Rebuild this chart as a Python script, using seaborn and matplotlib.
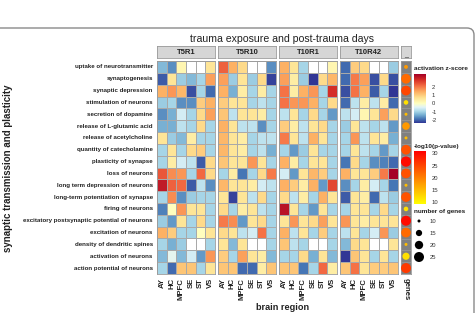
import numpy as np
import pandas as pd
import matplotlib
matplotlib.use("Agg")
import matplotlib.pyplot as plt
import matplotlib.colors as mcolors
from matplotlib.patches import FancyBboxPatch
from matplotlib.transforms import IdentityTransform
import seaborn as sns

sns.set_style("white")
plt.rcParams["font.family"] = ["Liberation Sans", "DejaVu Sans"]

nan = np.nan

# ── data ──────────────────────────────────────────────────────────────────────
regions = ["AY", "HC", "MPFC", "SE", "ST", "VS"]
functions = [
    "uptake of neurotransmitter", "synaptogenesis", "synaptic depression",
    "stimulation of neurons", "secretion of dopamine", "release of L-glutamic acid",
    "release of acetylcholine", "quantity of catecholamine", "plasticity of synapse",
    "loss of neurons", "long term depression of neurons",
    "long-term potentiation of synapse", "firing of neurons",
    "excitatory postsynaptic potential of neurons", "excitation of neurons",
    "density of dendritic spines", "activation of neurons",
    "action potential of neurons",
]
panels = ["T5R1", "T5R10", "T10R1", "T10R42"]

z_t5r1 = [
    [-1.3, -1.7, 0.2, nan, nan, 0.6],
    [-2.1, 0.6, -1.1, -1.3, -1.0, 1.6],
    [1.4, 1.7, 1.3, -2.2, -1.0, -2.0],
    [-1.1, -1.0, -1.7, -1.7, 1.0, 1.4],
    [-1.7, -1.4, -0.6, -1.0, 0.8, 1.6],
    [-1.4, -1.4, -0.8, -1.0, 0.8, -1.0],
    [0.6, -1.1, -1.3, 0.4, -1.0, -1.0],
    [-1.0, 0.6, -1.0, 0.8, 1.0, -1.0],
    [-1.0, 0.4, -0.6, -0.8, -2.1, 0.8],
    [2.4, 1.8, 1.7, -1.0, 2.2, 0.8],
    [3.2, 2.3, 2.2, -2.1, -0.8, -1.7],
    [-1.0, 1.8, -1.7, -1.1, -1.0, -1.0],
    [-1.8, 0.0, 1.7, 0.6, 0.6, -1.0],
    [-1.1, -1.6, 0.6, -1.0, 0.8, -1.0],
    [1.4, 1.0, -1.0, -1.0, 0.0, 0.6],
    [-1.0, -1.4, -1.1, nan, nan, -1.0],
    [-1.3, -0.4, -1.3, -0.6, -1.6, 1.7],
    [-1.0, -2.0, 1.1, 1.1, -1.0, 0.6],
]
z_t5r10 = [
    [2.3, 1.4, 0.8, nan, nan, -1.7],
    [1.6, -1.1, 0.6, -1.1, 0.8, -2.3],
    [1.4, -1.4, 0.4, -1.0, 0.4, -1.0],
    [1.0, 0.6, 0.6, -1.0, -0.8, -1.0],
    [1.1, -0.8, 0.6, 0.6, 0.4, -1.0],
    [1.4, 0.6, -0.8, -0.8, -1.7, -1.0],
    [1.3, 0.6, 0.4, -1.0, -0.8, -0.8],
    [1.3, 0.6, 0.4, -1.0, -0.8, -1.4],
    [1.1, 0.6, 0.6, 1.7, 0.6, -1.0],
    [-1.0, 0.4, -1.9, -1.0, 0.8, 2.0],
    [1.3, 0.6, 0.6, 0.4, -0.6, -0.8],
    [0.6, -2.3, 0.6, -0.8, 0.8, -1.0],
    [0.8, -1.0, 0.4, 0.6, -0.8, -1.0],
    [2.0, 1.8, -1.6, 0.6, 0.8, -1.0],
    [0.8, 0.6, -0.8, -0.6, 2.1, -1.0],
    [0.6, -1.3, 0.6, nan, nan, -1.0],
    [1.0, -1.0, 1.6, 0.6, 0.4, -1.3],
    [1.1, 1.1, -2.0, -2.0, 0.4, 1.1],
]
z_t10r1 = [
    [1.4, 0.6, -1.0, nan, nan, 0.2],
    [1.6, 0.4, -1.1, -2.4, 0.8, 1.3],
    [2.1, 0.4, 1.4, 1.7, -1.0, 2.9],
    [2.1, 1.7, 1.7, 1.4, -1.0, 0.8],
    [-0.8, 0.6, -1.0, 0.8, -1.0, -1.6],
    [1.0, 0.4, -0.8, 0.6, 0.8, -1.0],
    [2.0, 0.6, -0.8, 1.4, 0.6, -1.0],
    [-1.0, -1.6, -1.1, 0.6, -1.0, -1.0],
    [1.4, 0.4, -1.0, 0.6, 0.6, -1.0],
    [-0.6, -1.6, 0.6, 1.3, 1.0, -1.0],
    [1.4, 1.0, 0.4, 1.4, -1.6, 2.6],
    [0.8, -0.8, 0.4, -1.0, 1.4, 0.6],
    [3.3, 0.6, -1.0, -1.6, 0.6, -1.0],
    [0.6, 1.7, 0.6, 0.8, 1.6, 0.6],
    [1.4, -0.8, 0.6, -1.0, 1.0, -1.0],
    [1.1, -0.8, -1.0, nan, nan, -1.0],
    [-1.0, -1.0, 0.8, -1.4, 0.6, -1.3],
    [1.1, 1.1, -1.9, -1.0, 2.2, 0.4],
]
z_t10r42 = [
    [-2.0, 1.0, 0.8, nan, nan, -1.1],
    [-2.0, 2.0, 1.6, -2.2, 0.8, -2.2],
    [-2.2, 2.1, 1.4, -2.1, -1.0, -2.4],
    [-2.0, -0.8, 0.4, -0.8, 0.4, -2.0],
    [-0.8, -0.6, 0.2, 0.6, 1.6, 0.8],
    [-1.1, 0.6, -0.8, -1.0, -0.8, -1.6],
    [-1.0, 1.7, -0.8, 0.6, 0.4, -1.4],
    [-1.0, 0.6, -0.8, -1.0, -1.6, -1.0],
    [-1.9, 0.8, -1.0, -1.7, -1.8, -2.0],
    [1.4, 0.6, 0.6, 1.0, 2.0, 3.6],
    [-1.7, -1.0, 0.4, -0.6, -1.0, -1.9],
    [-2.1, 0.6, 0.4, -2.0, -0.8, -1.1],
    [-1.0, 0.6, 0.6, -1.0, 0.8, -1.0],
    [1.7, 0.6, 0.4, 0.6, 0.6, 0.6],
    [-0.8, 0.6, -1.0, -0.6, 1.7, -1.1],
    [-1.3, 0.8, 0.6, nan, nan, 0.6],
    [-2.4, 1.1, 0.6, -1.0, 0.6, -1.0],
    [1.1, 2.1, 0.6, 1.0, 1.0, 1.1],
]
n_genes = [11, 24, 24, 12, 10, 18, 10, 24, 26, 24, 10, 24, 12, 25, 24, 10, 17, 25]
neg_log_p = [18, 22, 25, 12, 15, 18, 15, 24, 30, 24, 15, 24, 12, 30, 22, 15, 12, 26]
size_breaks = [10, 15, 20, 25]
z_breaks = [-2, -1, 0, 1, 2]
p_breaks = [10, 15, 20, 25, 30]

# ── layout helpers (pixel boxes, measured from top-left) ──────────────────────
W, H = 477, 313
fig = plt.figure(figsize=(W / 100, H / 100), dpi=100)


def box(x0, y0, x1, y1):
    return [x0 / W, 1 - y1 / H, (x1 - x0) / W, (y1 - y0) / H]


GRID = "#a9a9a9"
EDGE = "#9a9a9a"
TXT = "#222222"
zcmap = "RdYlBu_r"
znorm = mcolors.TwoSlopeNorm(vmin=-2.4, vcenter=0, vmax=3.6)
pcmap = "autumn_r"
pnorm = (9.3, 31)
size_norm = (9, 26)
size_range = (1.5, 55)

TOP, BOT = 61, 274

# ── heatmap panels ────────────────────────────────────────────────────────────
for i, (name, vals) in enumerate(zip(panels, [z_t5r1, z_t5r10, z_t10r1, z_t10r42])):
    x0 = 157 + i * 61
    ax = fig.add_axes(box(x0, TOP, x0 + 58, BOT))
    df = pd.DataFrame(vals, index=functions, columns=regions)
    sns.heatmap(df, ax=ax, cmap=zcmap, norm=znorm, cbar=False,
                linewidths=0.5, linecolor=GRID,
                xticklabels=True, yticklabels=True)
    ax.set_facecolor("white")
    for s in ax.spines.values():
        s.set_visible(True)
        s.set_color(EDGE)
        s.set_linewidth(0.6)
    ax.set_xticklabels(regions, rotation=90, fontsize=5.6, fontweight="bold", color=TXT)
    ax.tick_params(axis="x", length=2, width=0.5, color="#555555", pad=1)
    if i == 0:
        ax.set_yticklabels(functions, rotation=0, fontsize=4.4,
                           fontweight="bold", color=TXT)
        ax.tick_params(axis="y", length=2, width=0.5, color="#555555", pad=1)
    else:
        ax.set_yticks([])
    ax.set_xlabel("")
    ax.set_ylabel("")

    sax = fig.add_axes(box(x0, 46, x0 + 58, 58))
    sax.set_facecolor("#d6d6d6")
    sax.set_xticks([])
    sax.set_yticks([])
    for s in sax.spines.values():
        s.set_color(EDGE)
        s.set_linewidth(0.6)
    sax.text(0.5, 0.5, name, ha="center", va="center", fontsize=5.5,
             fontweight="bold", color=TXT, transform=sax.transAxes)

# ── genes column ──────────────────────────────────────────────────────────────
axg = fig.add_axes(box(401, TOP, 411, BOT))
gdf = pd.DataFrame({"x": 0, "y": np.arange(len(functions)),
                    "p": neg_log_p, "n": n_genes})
sns.scatterplot(data=gdf, x="x", y="y", hue="p", size="n", palette=pcmap,
                hue_norm=pnorm, size_norm=size_norm, sizes=size_range,
                linewidth=0, legend=False, ax=axg, zorder=3)
axg.set_facecolor("#808080")
for k in range(len(functions) - 1):
    axg.axhline(k + 0.5, color="#9c9c9c", lw=0.5, zorder=1)
axg.set_xlim(-0.5, 0.5)
axg.set_ylim(len(functions) - 0.5, -0.5)
axg.set_yticks([])
axg.set_xticks([0])
axg.set_xticklabels(["genes"], rotation=270, fontsize=5.6, fontweight="bold", color=TXT)
axg.tick_params(axis="x", length=2, width=0.5, color="#555555", pad=1)
axg.set_xlabel("")
axg.set_ylabel("")
for s in axg.spines.values():
    s.set_color(EDGE)
    s.set_linewidth(0.6)

sg = fig.add_axes(box(401, 46, 411, 58))
sg.set_facecolor("#d6d6d6")
sg.set_xticks([])
sg.set_yticks([])
for s in sg.spines.values():
    s.set_color(EDGE)
    s.set_linewidth(0.6)
sg.text(0.5, 0.3, "_", ha="center", va="center", fontsize=5, color=TXT,
        transform=sg.transAxes)

# ── legends ───────────────────────────────────────────────────────────────────
fig.text(414 / W, 1 - 69 / H, "activation z-score", fontsize=4.6,
         fontweight="bold", color=TXT, va="center")
cz = fig.add_axes(box(414, 74, 426, 123))
zgrad = np.linspace(znorm.vmin, znorm.vmax, 256)[:, None]
cz.imshow(zgrad, aspect="auto", cmap=zcmap, norm=znorm, origin="lower",
          extent=[0, 1, znorm.vmin, znorm.vmax])
cz.set_xticks([])
cz.yaxis.tick_right()
cz.set_yticks(z_breaks)
cz.set_yticklabels([str(v) for v in z_breaks], fontsize=4.2, color="#333333")
cz.tick_params(axis="y", length=0, pad=4)
for s in cz.spines.values():
    s.set_visible(False)

fig.text(414 / W, 1 - 146 / H, "-log10(p-value)", fontsize=4.6,
         fontweight="bold", color=TXT, va="center")
cp = fig.add_axes(box(414, 151, 426, 204))
pgrad = np.linspace(pnorm[0], pnorm[1], 256)[:, None]
cp.imshow(pgrad, aspect="auto", cmap=pcmap, vmin=pnorm[0], vmax=pnorm[1],
          origin="lower", extent=[0, 1, pnorm[0], pnorm[1]])
cp.set_xticks([])
cp.yaxis.tick_right()
cp.set_yticks(p_breaks)
cp.set_yticklabels([str(v) for v in p_breaks], fontsize=4.2, color="#333333")
cp.tick_params(axis="y", length=0, pad=4)
for s in cp.spines.values():
    s.set_visible(False)

fig.text(414 / W, 1 - 211 / H, "number of genes", fontsize=4.6,
         fontweight="bold", color=TXT, va="center")
cs = fig.add_axes(box(414, 215, 424, 263))
sdf = pd.DataFrame({"x": 0, "y": size_breaks, "n": size_breaks})
sns.scatterplot(data=sdf, x="x", y="y", size="n", size_norm=size_norm,
                sizes=size_range, color="black", linewidth=0, legend=False, ax=cs)
cs.set_xlim(-0.5, 0.5)
cs.set_ylim(27.5, 7.5)
cs.set_xticks([])
cs.yaxis.tick_right()
cs.set_yticks(size_breaks)
cs.set_yticklabels([str(v) for v in size_breaks], fontsize=4.2, color="#333333")
cs.tick_params(axis="y", length=0, pad=4)
cs.set_xlabel("")
cs.set_ylabel("")
for s in cs.spines.values():
    s.set_visible(False)

# ── titles ────────────────────────────────────────────────────────────────────
fig.text(282 / W, 1 - 39 / H, "trauma exposure and post-trauma days",
         ha="center", va="center", fontsize=7.6, color=TXT)
fig.text(283 / W, 1 - 307 / H, "brain region", ha="center", va="center",
         fontsize=6.6, fontweight="bold", color=TXT)
fig.text(8 / W, 1 - 168 / H, "synaptic transmission and plasticity",
         ha="center", va="center", rotation=90, fontsize=7, fontweight="bold",
         color=TXT)

# rounded frame round the figure card
frame = FancyBboxPatch((-10, -10), 484, 295,
                       boxstyle="round,pad=0,rounding_size=7",
                       transform=IdentityTransform(), fill=False,
                       edgecolor="#8a8a8a", linewidth=1)
fig.add_artist(frame)

fig.savefig("out.png", dpi=100)
